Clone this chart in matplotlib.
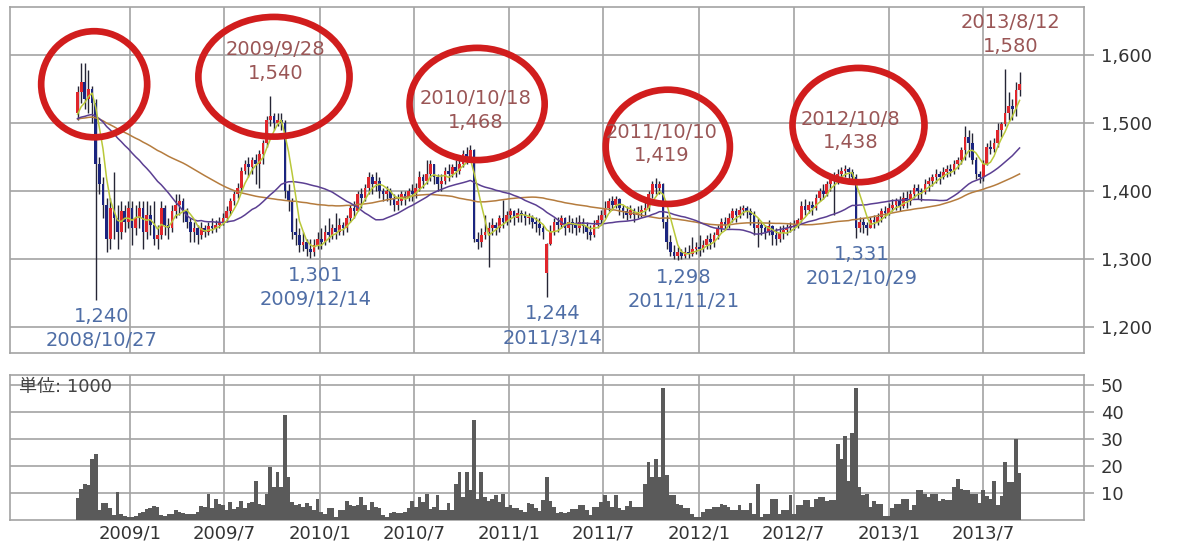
import numpy as np
import pandas as pd
import matplotlib
matplotlib.use('Agg')
import matplotlib.pyplot as plt
import matplotlib.dates as mdates
from matplotlib.patches import Ellipse
from matplotlib.ticker import FuncFormatter

plt.rcParams['font.family'] = ['DejaVu Sans', 'Noto Sans CJK JP']

# weekly candles, first week 2008/9/22
first_week = '2008-09-22'
opens = [1515,1545,1560,1535,1550,1530,1440,1410,1380,1330,
         1375,1360,1340,1370,1355,1375,1345,1360,1375,1340,
         1365,1350,1330,1335,1375,1350,1345,1370,1380,1385,
         1370,1355,1340,1345,1335,1345,1340,1348,1345,1350,
         1355,1360,1370,1385,1395,1405,1430,1440,1435,1445,
         1440,1455,1470,1505,1510,1500,1505,1500,1400,1385,
         1340,1335,1320,1325,1315,1310,1320,1330,1325,1340,
         1335,1345,1340,1350,1345,1360,1375,1370,1395,1390,
         1405,1420,1410,1415,1400,1395,1400,1390,1380,1385,
         1395,1390,1400,1395,1405,1420,1415,1425,1440,1420,
         1410,1415,1430,1425,1435,1430,1440,1455,1450,1460,
         1330,1325,1335,1340,1345,1350,1345,1360,1355,1365,
         1370,1360,1368,1365,1360,1362,1355,1352,1345,1280,
         1322,1340,1355,1350,1360,1345,1355,1350,1345,1355,
         1348,1340,1335,1350,1358,1365,1375,1385,1380,1388,
         1375,1370,1365,1372,1365,1368,1372,1375,1395,1410,
         1405,1410,1355,1325,1310,1305,1310,1305,1310,1308,
         1315,1318,1315,1320,1330,1325,1335,1345,1355,1350,
         1360,1370,1365,1372,1375,1370,1365,1345,1350,1345,
         1340,1348,1335,1330,1338,1342,1345,1348,1350,1358,
         1378,1372,1380,1375,1390,1400,1395,1410,1420,1415,
         1425,1430,1432,1428,1420,1345,1355,1350,1345,1358,
         1355,1362,1370,1368,1375,1380,1385,1378,1390,1385,
         1395,1405,1400,1398,1410,1415,1420,1425,1420,1428,
         1432,1430,1440,1445,1460,1480,1470,1445,1425,1420,
         1440,1465,1462,1470,1490,1498,1515,1525,1520,1548]
highs = [1555,1588,1588,1578,1555,1535,1450,1420,1390,1390,
         1428,1380,1385,1380,1385,1385,1380,1385,1385,1385,
         1380,1385,1350,1385,1380,1360,1380,1395,1395,1390,
         1375,1360,1355,1350,1355,1350,1355,1360,1358,1362,
         1368,1378,1390,1400,1412,1435,1445,1450,1450,1455,
         1460,1475,1510,1540,1515,1515,1515,1505,1410,1390,
         1360,1345,1340,1330,1330,1330,1340,1345,1350,1360,
         1352,1367,1360,1355,1365,1380,1385,1400,1405,1410,
         1428,1425,1428,1420,1405,1408,1405,1395,1395,1400,
         1400,1405,1410,1412,1430,1425,1446,1446,1440,1425,
         1425,1435,1440,1440,1445,1448,1460,1465,1468,1462,
         1340,1345,1365,1355,1360,1355,1365,1387,1370,1375,
         1372,1375,1372,1370,1368,1365,1362,1360,1350,1324,
         1350,1360,1362,1365,1362,1365,1360,1362,1365,1360,
         1355,1350,1358,1365,1372,1385,1390,1392,1392,1390,
         1380,1378,1380,1375,1378,1380,1385,1400,1415,1419,
         1415,1412,1365,1335,1320,1318,1315,1318,1320,1332,
         1325,1335,1328,1335,1338,1340,1350,1360,1362,1368,
         1375,1375,1378,1380,1378,1375,1370,1360,1355,1350,
         1358,1350,1345,1348,1350,1352,1355,1358,1360,1385,
         1388,1386,1385,1395,1405,1410,1415,1425,1428,1432,
         1436,1438,1435,1432,1425,1362,1360,1355,1362,1365,
         1368,1375,1378,1382,1388,1390,1392,1398,1400,1402,
         1410,1410,1405,1418,1420,1425,1432,1430,1435,1438,
         1440,1445,1450,1465,1495,1490,1485,1450,1430,1445,
         1470,1475,1478,1500,1502,1580,1545,1535,1560,1575]
lows = [1505,1530,1520,1515,1500,1240,1395,1360,1310,1315,
        1330,1315,1330,1340,1345,1320,1335,1345,1315,1330,
        1335,1320,1315,1330,1335,1330,1340,1360,1365,1355,
        1345,1325,1325,1322,1330,1332,1335,1338,1340,1345,
        1350,1355,1365,1380,1390,1400,1425,1420,1425,1410,
        1405,1440,1465,1495,1490,1495,1490,1390,1370,1330,
        1320,1310,1312,1305,1301,1305,1315,1315,1320,1325,
        1330,1330,1335,1335,1340,1355,1360,1370,1375,1385,
        1395,1395,1400,1390,1385,1385,1380,1370,1372,1380,
        1380,1385,1385,1390,1400,1405,1410,1415,1410,1400,
        1400,1410,1415,1420,1420,1425,1435,1440,1445,1325,
        1315,1318,1330,1288,1335,1335,1340,1345,1350,1355,
        1350,1355,1355,1350,1352,1345,1340,1335,1330,1244,
        1320,1335,1340,1345,1335,1340,1338,1335,1340,1338,
        1330,1328,1332,1345,1350,1360,1370,1372,1375,1365,
        1360,1358,1360,1355,1360,1362,1365,1370,1390,1395,
        1395,1345,1315,1305,1300,1298,1300,1302,1302,1305,
        1308,1305,1310,1315,1315,1318,1330,1340,1342,1345,
        1355,1355,1360,1365,1360,1350,1335,1318,1335,1330,
        1335,1320,1320,1325,1330,1335,1340,1342,1345,1355,
        1365,1368,1365,1372,1385,1388,1392,1400,1365,1410,
        1418,1420,1415,1410,1331,1340,1338,1335,1345,1345,
        1350,1355,1360,1365,1370,1372,1370,1375,1375,1380,
        1390,1388,1385,1395,1400,1408,1412,1410,1418,1420,
        1422,1425,1432,1440,1445,1450,1440,1418,1412,1415,
        1438,1455,1458,1465,1480,1495,1505,1505,1510,1540]
closes = [1545,1560,1535,1550,1530,1440,1410,1380,1330,1375,
          1360,1340,1370,1355,1375,1345,1360,1375,1340,1365,
          1350,1330,1335,1375,1350,1345,1370,1380,1385,1370,
          1355,1340,1345,1335,1345,1340,1348,1345,1350,1355,
          1360,1370,1385,1395,1405,1430,1440,1435,1445,1440,
          1455,1470,1505,1510,1500,1505,1500,1400,1385,1340,
          1335,1320,1325,1315,1310,1320,1330,1325,1340,1335,
          1345,1340,1350,1345,1360,1375,1370,1395,1390,1405,
          1420,1410,1415,1400,1395,1400,1390,1380,1385,1395,
          1390,1400,1395,1405,1420,1415,1425,1440,1420,1410,
          1415,1430,1425,1435,1430,1440,1455,1450,1460,1330,
          1325,1335,1340,1345,1350,1345,1360,1355,1365,1370,
          1360,1368,1365,1360,1362,1355,1352,1345,1340,1322,
          1340,1355,1350,1360,1345,1355,1350,1345,1355,1348,
          1340,1335,1350,1358,1365,1375,1385,1380,1388,1375,
          1370,1365,1372,1365,1368,1372,1375,1395,1410,1405,
          1410,1355,1325,1310,1305,1310,1305,1310,1308,1315,
          1318,1315,1320,1330,1325,1335,1345,1355,1350,1360,
          1370,1365,1372,1375,1370,1365,1345,1350,1345,1340,
          1348,1335,1330,1338,1342,1345,1348,1350,1358,1378,
          1372,1380,1375,1390,1400,1395,1410,1420,1415,1425,
          1430,1432,1428,1420,1345,1355,1350,1345,1358,1355,
          1362,1370,1368,1375,1380,1385,1378,1390,1385,1395,
          1405,1400,1398,1410,1415,1420,1425,1420,1428,1432,
          1430,1440,1445,1460,1480,1470,1445,1425,1420,1440,
          1465,1462,1470,1490,1498,1515,1525,1520,1548,1558]
# volume, unit 1000
volumes = [8,11.6,13.4,12.8,22.5,24.4,3.7,6.3,6.3,4.6,
           1.8,10.4,2.4,1.5,1.2,1.2,1.5,2.7,3,3.9,
           4.3,5.1,4.9,1.8,1.5,2.2,2.4,3.7,3,2.7,
           2.4,2.2,2.4,3,5.1,4.9,9.5,4.3,7.9,6.1,
           5.5,3.7,6.7,3.9,4.9,7.1,4.3,6.3,6.7,14.6,
           5.9,5.5,9.8,19.5,12.2,17.7,12.2,39,15.9,6.7,
           5.5,6.1,4.9,6.3,5.1,3.7,7.9,3,2.2,4.6,
           4.6,1.2,3.7,3.7,7.1,5.5,5.1,5.5,8.5,5.5,
           3.7,6.7,4.9,4.3,1.8,1.2,2.7,3,2.7,2.7,
           3,4.6,7.1,4.9,8.5,6.7,9.5,3.9,4.9,9.1,
           3.7,3.7,6.3,3.7,13.4,17.7,8.5,17.7,11,37.2,
           7.9,17.7,8.5,7.1,7.9,9.1,6.7,9.5,4.9,5.5,
           4.3,4.3,3.7,3,6.3,5.9,4.6,3.4,7.3,16.1,
           7,4.9,2.7,3,2.7,3,3.9,3.9,5.5,5.5,
           3.7,1.8,4.9,4.9,6.7,9.1,7.1,4.9,9.1,4.3,
           3.7,5.1,7.1,4.9,4.9,4.9,13.4,21.3,15.9,22.6,
           16,48.8,16.5,9.1,9.1,6.1,5.5,4.6,4.6,2.4,
           1.2,1.2,3,3.9,3.9,4.9,4.9,6.1,5.5,4.9,
           3.7,3.7,5.5,3.7,3.7,6.3,2.4,13.4,1.2,2.4,
           2.4,7.6,7.6,2.4,3.7,3.7,9.1,2.4,5.5,5.5,
           7.3,7.3,4.9,7.6,8.5,8.5,7.1,7.3,7.3,28.3,
           22.6,31.1,14.6,32.3,49,12.2,9.1,9.5,4.9,7.1,
           6.1,6.1,1.5,1.5,4.6,6.1,6.1,7.9,7.9,3.7,
           5.5,11,11,9.5,8.5,9.5,9.5,7.1,7.9,7.3,
           7.3,12.2,15.2,11.6,11,11,9.8,9.8,6.3,11,
           8.9,7.9,14.6,5.5,8.9,21.3,14,14,29.9,17.3]

# moving averages: 5, 26, 52 weeks; level of the averages when the chart begins
ma_weeks = [5, 26, 52]
ma_colors = ['#b9c83a', '#5b3f92', '#b57c3e']
ma_start_level = 1505

price_ticks = [1200, 1300, 1400, 1500, 1600]
vol_ticks = [10, 20, 30, 40, 50]
month_ticks = ['2009-01-01', '2009-07-01', '2010-01-01', '2010-07-01', '2011-01-01',
               '2011-07-01', '2012-01-01', '2012-07-01', '2013-01-01', '2013-07-01']
month_labels = ['2009/1', '2009/7', '2010/1', '2010/7', '2011/1',
                '2011/7', '2012/1', '2012/7', '2013/1', '2013/7']

# highs / lows that are labelled
peak_dates = ['2009-09-28', '2010-10-18', '2011-10-10', '2012-10-08', '2013-08-12']
peak_labels = ['2009/9/28', '2010/10/18', '2011/10/10', '2012/10/8', '2013/8/12']
peak_values = [1540, 1468, 1419, 1438, 1580]
low_dates = ['2008-10-27', '2009-12-14', '2011-03-14', '2011-11-21', '2012-10-29']
low_labels = ['2008/10/27', '2009/12/14', '2011/3/14', '2011/11/21', '2012/10/29']
low_values = [1240, 1301, 1244, 1298, 1331]

# red hand-drawn circles: centre date, centre price, width (days), height (price)
circle_dates = ['2008-10-24', '2009-10-05', '2010-10-31', '2011-11-02', '2012-11-03']
circle_prices = [1557, 1568, 1528, 1465, 1497]
circle_widths = [204, 291, 260, 239, 254]
circle_heights = [156, 176, 165, 168, 168]

weeks = pd.date_range(first_week, periods=len(closes), freq='7D')
x = mdates.date2num(weeks)
o = np.array(opens, float)
c = np.array(closes, float)
h = np.array(highs, float)
l = np.array(lows, float)

# averages need weeks before the first candle: seed them at the start level
seeded = pd.Series(np.concatenate([np.full(max(ma_weeks), ma_start_level), c]))
mas = [seeded.rolling(n).mean().to_numpy()[max(ma_weeks):] for n in ma_weeks]

grid_c = '#a3a3a3'
txt_c = '#333333'
hi_c = '#9a5656'
lo_c = '#4f6ea6'

fig = plt.figure(figsize=(12, 5.46), dpi=100)
ax = fig.add_axes([10/1200, 1-353/546, 1074/1200, 346/546])
axv = fig.add_axes([10/1200, 1-520/546, 1074/1200, 145/546])

xmin = mdates.date2num(pd.Timestamp('2008-05-15'))
xmax = mdates.date2num(pd.Timestamp('2014-01-11'))
xt = mdates.date2num(pd.to_datetime(month_ticks))

for a in (ax, axv):
    a.set_xlim(xmin, xmax)
    a.set_xticks(xt)
    a.grid(True, color=grid_c, lw=1.2)
    a.set_axisbelow(True)
    a.yaxis.tick_right()
    for s in a.spines.values():
        s.set_color(grid_c)
        s.set_linewidth(1.2)

# price panel
up = c >= o
body_lo = np.minimum(o, c)
body_h = np.maximum(np.abs(c - o), 1.5)
ax.vlines(x, l, h, color='#252535', lw=1, zorder=3)
ax.bar(x, body_h, bottom=body_lo, width=5.2, color=np.where(up, '#e0262c', '#1b2580'),
       zorder=3, linewidth=0)
for ma, col in zip(mas[::-1], ma_colors[::-1]):
    ax.plot(x, ma, color=col, lw=1.1, zorder=4)

ax.set_ylim(1161.8, 1670.6)
ax.set_yticks(price_ticks)
ax.yaxis.set_major_formatter(FuncFormatter(lambda v, p: f'{int(v):,}'))
ax.tick_params(axis='y', length=7, width=1.2, color=grid_c, pad=5,
               labelsize=13, labelcolor=txt_c)
ax.tick_params(axis='x', length=0, labelbottom=False)

for d, cp, w, hh in zip(circle_dates, circle_prices, circle_widths, circle_heights):
    cx = mdates.date2num(pd.Timestamp(d))
    ax.add_patch(Ellipse((cx, cp), w, hh, fill=False, edgecolor='#d11d1d',
                         lw=4.8, zorder=5))

for d, lab, v in zip(peak_dates, peak_labels, peak_values):
    px = mdates.date2num(pd.Timestamp(d))
    ax.annotate(f'{v:,}', (px, v), xytext=(4, 16), textcoords='offset points',
                ha='center', va='center', fontsize=14, color=hi_c, zorder=6)
    ax.annotate(lab, (px, v), xytext=(4, 33), textcoords='offset points',
                ha='center', va='center', fontsize=14, color=hi_c, zorder=6)

for d, lab, v in zip(low_dates, low_labels, low_values):
    px = mdates.date2num(pd.Timestamp(d))
    ax.annotate(f'{v:,}', (px, v), xytext=(4, -12), textcoords='offset points',
                ha='center', va='center', fontsize=14, color=lo_c, zorder=6)
    ax.annotate(lab, (px, v), xytext=(4, -29.5), textcoords='offset points',
                ha='center', va='center', fontsize=14, color=lo_c, zorder=6)

# volume panel
axv.bar(x, volumes, width=7, color='#5a5a5a', linewidth=0, zorder=3)
axv.set_ylim(0, 53.7)
axv.set_yticks(vol_ticks)
axv.set_xticklabels(month_labels)
axv.tick_params(axis='y', length=7, width=1.2, color=grid_c, pad=5,
                labelsize=13, labelcolor=txt_c)
axv.tick_params(axis='x', length=0, pad=3, labelsize=13, labelcolor=txt_c)
axv.text(0.008, 0.92, '単位: 1000', transform=axv.transAxes, ha='left', va='center',
         fontsize=13, color='#444444', zorder=6)

fig.savefig('out.png', dpi=100, facecolor='white')
